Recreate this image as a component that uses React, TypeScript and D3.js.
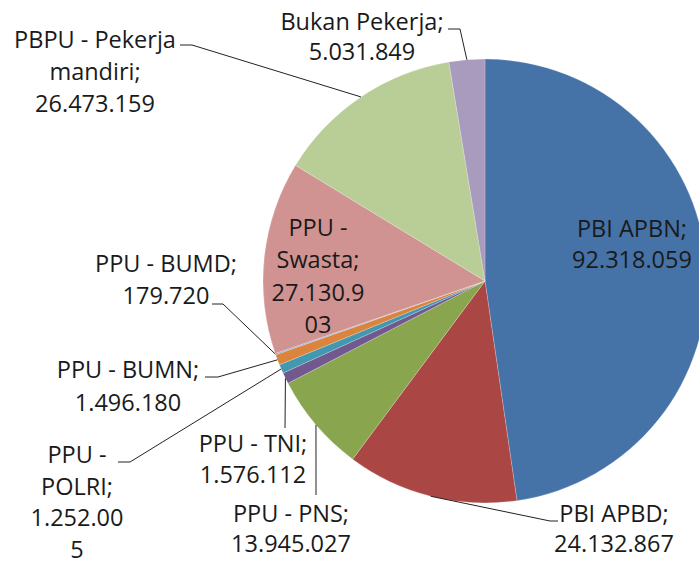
import React from "react";
import * as d3 from "d3";

const categories = [
  "PBI APBN",
  "PBI APBD",
  "PPU - PNS",
  "PPU - TNI",
  "PPU - POLRI",
  "PPU - BUMN",
  "PPU - BUMD",
  "PPU - Swasta",
  "PBPU - Pekerja mandiri",
  "Bukan Pekerja",
];
const values = [92318059, 24132867, 13945027, 1576112, 1252005, 1496180, 179720, 27130903, 26473159, 5031849];
const colors = ["#4572A7", "#AA4643", "#89A54E", "#71588F", "#4198AF", "#DB843D", "#93A9CF", "#D19392", "#B9CD96", "#A99BBD"];

// how each label wraps
const labelBreaks: string[][] = [
  ["PBI APBN;", "{v}"],
  ["PBI APBD;", "{v}"],
  ["PPU - PNS;", "{v}"],
  ["PPU - TNI;", "{v}"],
  ["PPU -", "POLRI;", "{v0}", "{v1}"],
  ["PPU - BUMN;", "{v}"],
  ["PPU - BUMD;", "{v}"],
  ["PPU -", "Swasta;", "{v0}", "{v1}"],
  ["PBPU - Pekerja", "mandiri;", "{v}"],
  ["Bukan Pekerja;", "{v}"],
];

// layout: label centre x, first baseline, line gap, leader points near label
const layout = [
  { x: 632, y: 237, dy: 31, leader: null as number[][] | null },
  { x: 614, y: 522, dy: 30, leader: [[558, 521], [550, 521]] },
  { x: 291, y: 522, dy: 30, leader: [[316, 495]] },
  { x: 253, y: 452, dy: 31, leader: [[285, 428]] },
  { x: 77, y: 463, dy: 31.5, leader: [[118, 462], [130, 462]] },
  { x: 128, y: 378, dy: 33, leader: [[205, 377], [218, 377]] },
  { x: 166, y: 272, dy: 32, leader: [[212, 304], [223, 304]] },
  { x: 318, y: 236, dy: 32.3, leader: null },
  { x: 95, y: 48, dy: 32, leader: [[180, 45], [192, 45]] },
  { x: 362, y: 30, dy: 30, leader: [[448, 29], [460, 29]] },
];

const W = 699;
const H = 563;
const cx = 485;
const cy = 281;
const R = 222;

const fmt = d3.formatLocale({ decimal: ",", thousands: ".", grouping: [3], currency: ["", ""] }).format(",d");

export default function App() {
  const pie = d3.pie<number>().sort(null).value((d) => d).startAngle(0).endAngle(2 * Math.PI);
  const arcs = pie(values);
  const arc = d3.arc<d3.PieArcDatum<number>>().innerRadius(0).outerRadius(R);
  const edge = d3.arc<d3.PieArcDatum<number>>().innerRadius(R).outerRadius(R);

  return (
    <svg
      width={W}
      height={H}
      style={{ position: "absolute", left: 0, top: 0, background: "#fff" }}
      fontFamily="'Open Sans', 'Noto Sans', sans-serif"
    >
      <g transform={`translate(${cx},${cy})`}>
        {arcs.map((a, i) => (
          <path key={i} d={arc(a) || ""} fill={colors[i]} stroke="#ffffff" strokeOpacity={0.35} strokeWidth={0.6} />
        ))}
      </g>
      {arcs.map((a, i) => {
        const L = layout[i];
        if (!L.leader) return null;
        const [ex, ey] = edge.centroid(a);
        const pts = [...L.leader, [cx + ex, cy + ey]];
        return (
          <polyline
            key={"l" + i}
            points={pts.map((p) => p.join(",")).join(" ")}
            fill="none"
            stroke="#222"
            strokeWidth={1}
          />
        );
      })}
      {categories.map((c, i) => {
        const L = layout[i];
        const v = fmt(values[i]);
        const lines = labelBreaks[i].map((s) =>
          s === "{v}" ? v : s === "{v0}" ? v.slice(0, 8) : s === "{v1}" ? v.slice(8) : s
        );
        return (
          <text key={"t" + i} textAnchor="middle" fontSize={23.5} fill="#1a1a1a">
            {lines.map((ln, j) => (
              <tspan key={j} x={L.x} y={L.y + j * L.dy}>
                {ln}
              </tspan>
            ))}
          </text>
        );
      })}
    </svg>
  );
}
